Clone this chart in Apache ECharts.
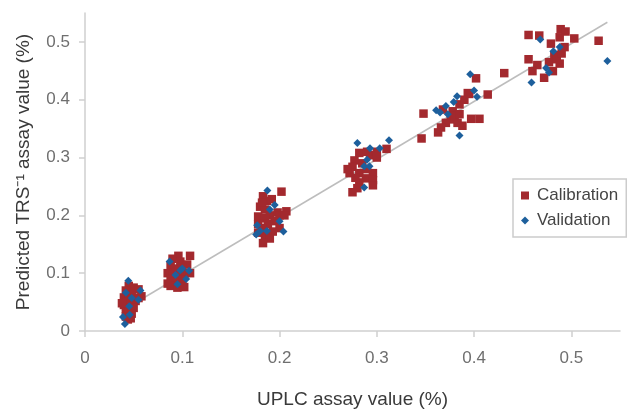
<!DOCTYPE html>
<html><head><meta charset="utf-8">
<script src="https://cdn.jsdelivr.net/npm/echarts@6/dist/echarts.min.js"></script>
<style>html,body{margin:0;padding:0;background:#fff}#c{width:638px;height:414px}</style>
</head><body><div id="c"></div>
<script>
var xTicks = [0, 0.1, 0.2, 0.3, 0.4, 0.5];
var yTicks = [0, 0.1, 0.2, 0.3, 0.4, 0.5];
var fitLine = [[0.038, 0.035], [0.537, 0.534]];
var calibration = [
 [0.045,0.078],[0.05,0.075],[0.055,0.072],[0.042,0.07],[0.048,0.065],[0.058,0.06],[0.04,0.058],[0.045,0.055],[0.052,0.052],[0.043,0.05],[0.04,0.045],[0.047,0.044],[0.05,0.04],[0.042,0.038],[0.045,0.035],[0.048,0.03],[0.042,0.025],[0.047,0.022],[0.044,0.02],[0.055,0.057],[0.038,0.048],
 [0.096,0.13],[0.108,0.13],[0.09,0.125],[0.098,0.12],[0.105,0.115],[0.088,0.112],[0.092,0.108],[0.1,0.11],[0.085,0.1],[0.09,0.098],[0.095,0.095],[0.102,0.098],[0.088,0.09],[0.1,0.088],[0.092,0.085],[0.098,0.08],[0.088,0.078],[0.095,0.075],[0.102,0.076],[0.085,0.082],[0.108,0.1],
 [0.202,0.241],[0.183,0.233],[0.187,0.225],[0.192,0.228],[0.18,0.215],[0.185,0.21],[0.207,0.207],[0.19,0.2],[0.198,0.205],[0.178,0.198],[0.185,0.195],[0.195,0.19],[0.2,0.2],[0.178,0.185],[0.188,0.185],[0.182,0.178],[0.193,0.172],[0.2,0.178],[0.185,0.165],[0.178,0.17],[0.19,0.16],[0.183,0.152],[0.205,0.2],[0.182,0.222],
 [0.282,0.308],[0.293,0.304],[0.277,0.295],[0.275,0.284],[0.272,0.273],[0.282,0.273],[0.296,0.273],[0.289,0.264],[0.296,0.261],[0.282,0.257],[0.296,0.252],[0.28,0.247],[0.275,0.24],[0.31,0.315],[0.285,0.29],[0.278,0.265],[0.29,0.28],[0.27,0.28],[0.3,0.3],[0.3,0.31],[0.29,0.31],
 [0.402,0.437],[0.431,0.446],[0.3935,0.4115],[0.414,0.409],[0.348,0.376],[0.368,0.383],[0.385,0.392],[0.39,0.4],[0.378,0.38],[0.376,0.366],[0.383,0.36],[0.388,0.355],[0.397,0.367],[0.4055,0.367],[0.371,0.36],[0.366,0.352],[0.363,0.3435],[0.346,0.333],[0.395,0.41],[0.38,0.372],[0.385,0.375],
 [0.456,0.512],[0.467,0.511],[0.489,0.522],[0.494,0.518],[0.488,0.508],[0.503,0.506],[0.528,0.502],[0.479,0.497],[0.493,0.491],[0.4825,0.477],[0.456,0.47],[0.477,0.465],[0.488,0.4625],[0.465,0.46],[0.46,0.4495],[0.481,0.4495],[0.472,0.438],[0.485,0.47],[0.49,0.48]
];
var validation = [
 [0.0445,0.087],[0.057,0.07],[0.042,0.066],[0.048,0.057],[0.055,0.054],[0.0455,0.043],[0.046,0.028],[0.039,0.024],[0.041,0.012],
 [0.087,0.12],[0.098,0.105],[0.107,0.104],[0.093,0.097],[0.104,0.09],[0.095,0.081],[0.1,0.108],
 [0.1875,0.243],[0.195,0.218],[0.19,0.21],[0.2,0.19],[0.177,0.183],[0.18,0.173],[0.187,0.173],[0.176,0.167],[0.204,0.172],
 [0.28,0.325],[0.293,0.316],[0.303,0.316],[0.3125,0.33],[0.29,0.296],[0.287,0.285],[0.2925,0.285],[0.287,0.248],
 [0.396,0.444],[0.4,0.416],[0.403,0.405],[0.3825,0.406],[0.379,0.396],[0.371,0.389],[0.361,0.382],[0.373,0.375],[0.385,0.338],[0.365,0.378],
 [0.468,0.504],[0.488,0.491],[0.4815,0.484],[0.474,0.455],[0.477,0.447],[0.459,0.43],[0.537,0.467]
];
var red = '#a3292e', blue = '#1d5f9c', axisGray = '#cfcfcf', font = 'Liberation Sans, Arial, sans-serif';
var chart = echarts.init(document.getElementById('c'), null, {renderer: 'canvas'});
function fmt(v){ return String(v); }
chart.setOption({
  animation: false,
  backgroundColor: '#fff',
  textStyle: {fontFamily: font},
  grid: {left: 85, right: 18, top: 13, bottom: 77, containLabel: false},
  xAxis: {
    type: 'value', min: 0, max: 0.55, interval: 0.1,
    name: 'UPLC assay value (%)', nameLocation: 'middle', nameGap: 59,
    nameTextStyle: {fontSize: 19, color: '#3a3a3a', fontFamily: font},
    axisLine: {show: true, lineStyle: {color: axisGray, width: 1.5}},
    axisTick: {show: true, length: 6, lineStyle: {color: axisGray, width: 1.5}, customValues: xTicks},
    axisLabel: {fontSize: 17, color: '#6f6f6f', margin: 19, customValues: xTicks, formatter: fmt, fontFamily: font},
    splitLine: {show: false}
  },
  yAxis: {
    type: 'value', min: 0, max: 0.55, interval: 0.1,
    name: 'Predicted TRS\u207B\u00B9 assay value (%)', nameLocation: 'middle', nameGap: 52,
    nameTextStyle: {fontSize: 19, color: '#3a3a3a', fontFamily: font},
    axisLine: {show: true, lineStyle: {color: axisGray, width: 1.5}},
    axisTick: {show: true, length: 6, lineStyle: {color: axisGray, width: 1.5}, customValues: yTicks},
    axisLabel: {fontSize: 17, color: '#6f6f6f', margin: 15, customValues: yTicks, formatter: fmt, fontFamily: font},
    splitLine: {show: false}
  },
  legend: {
    orient: 'vertical', left: 513, top: 179,
    padding: [8, 8, 8, 8], itemGap: 8, itemWidth: 8, itemHeight: 8,
    borderColor: '#cccccc', borderWidth: 1.5,
    textStyle: {fontSize: 17, color: '#444', fontFamily: font, padding: [0, 0, 0, 3]},
    data: [{name: 'Calibration', icon: 'rect'}, {name: 'Validation', icon: 'diamond'}]
  },
  series: [
    {type: 'line', data: fitLine, showSymbol: false, symbol: 'none', silent: true,
     lineStyle: {color: '#bdbdbd', width: 1.5}, z: 1},
    {name: 'Calibration', type: 'scatter', data: calibration, symbol: 'rect', symbolSize: 8.5,
     itemStyle: {color: red, opacity: 1}, z: 2},
    {name: 'Validation', type: 'scatter', data: validation, symbol: 'diamond', symbolSize: 8,
     itemStyle: {color: blue, opacity: 1}, z: 3}
  ]
});
</script></body></html>
